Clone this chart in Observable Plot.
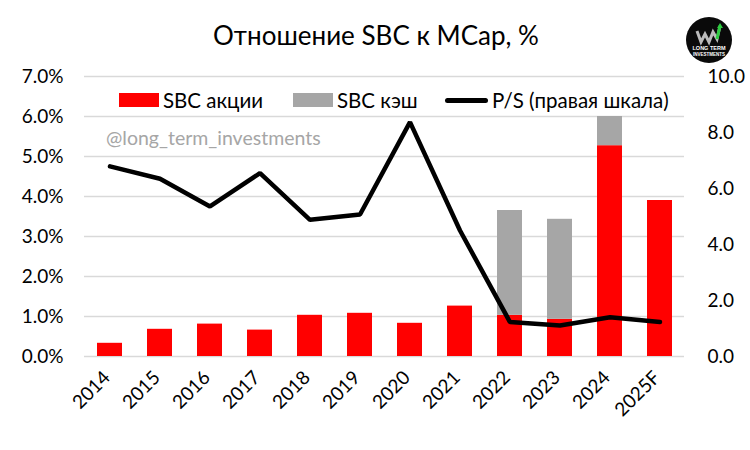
<!DOCTYPE html>
<html><head><meta charset="utf-8">
<script src="https://cdn.jsdelivr.net/npm/d3@7"></script>
<script src="https://cdn.jsdelivr.net/npm/@observablehq/plot@0.6"></script>
<style>
body{margin:0;background:#fff;font-family:Lato,"Noto Sans",sans-serif;color:#000;}
#wrap{position:relative;width:750px;height:450px;overflow:hidden;}
#wrap svg.plot{position:absolute;left:0;top:0;}
.title{position:absolute;left:0;top:19px;width:752px;text-align:center;font-size:26px;line-height:32px;}
.leg{position:absolute;top:88px;font-size:20.5px;line-height:24px;white-space:nowrap;}
.sw{position:absolute;top:93px;height:14px;width:40px;}
.ln{position:absolute;top:98px;height:5px;width:43px;background:#000;border-radius:3px;}
.wm{position:absolute;left:106px;top:126px;font-size:19.5px;color:#a6a6a6;}
.logo{position:absolute;left:686px;top:17px;}
</style></head><body>
<div id="wrap"></div>
<script>
const years = ["2014","2015","2016","2017","2018","2019","2020","2021","2022","2023","2024","2025F"];
const sbcShares = [0.33,0.68,0.81,0.66,1.03,1.08,0.83,1.26,1.03,0.93,5.27,3.90];
const sbcCash   = [0,0,0,0,0,0,0,0,2.62,2.50,0.73,0];
const psRatio   = [6.79,6.35,5.36,6.55,4.88,5.07,8.37,4.50,1.23,1.11,1.40,1.23];
const leftTicks = [0,1,2,3,4,5,6,7];
const rightTicks = [0,2,4,6,8,10];
const seriesNames = ["SBC акции","SBC кэш"];
const seriesColors = ["#ff0000","#a6a6a6"];
const titleText = "Отношение SBC к MCap, %";
const lineName = "P/S (правая шкала)";
const watermark = "@long_term_investments";
const PS_SCALE = 0.7; // right axis 10.0 aligns with left 7.0%

const bars = [];
years.forEach((y,i)=>{
  bars.push({year:y, series:seriesNames[0], value:sbcShares[i]});
  bars.push({year:y, series:seriesNames[1], value:sbcCash[i]});
});
const line = years.map((y,i)=>({year:y, ps:psRatio[i]}));

const chart = Plot.plot({
  width:750, height:450,
  marginTop:76, marginBottom:94, marginLeft:84, marginRight:66,
  style:{fontFamily:"Lato, 'Noto Sans', sans-serif", color:"#000", background:"transparent"},
  x:{domain:years, paddingInner:0.5, paddingOuter:0.25, label:null},
  y:{domain:[0,7], label:null},
  color:{domain:seriesNames, range:seriesColors},
  marks:[
    Plot.gridY(leftTicks,{stroke:"#d9d9d9", strokeOpacity:1, strokeWidth:1.5}),
    Plot.barY(bars,{x:"year", y:"value", fill:"series", order:seriesNames}),
    Plot.line(line,{x:"year", y:d=>d.ps*PS_SCALE, stroke:"#000", strokeWidth:4.5, strokeLinejoin:"miter"}),
    Plot.axisY(leftTicks,{anchor:"left", tickSize:0, tickPadding:21, fontSize:19, tickFormat:d=>d.toFixed(1)+"%", label:null}),
    Plot.axisY(rightTicks.map(v=>v*PS_SCALE),{anchor:"right", tickSize:0, tickPadding:23, fontSize:19, tickFormat:d=>(d/PS_SCALE).toFixed(1), label:null}),
    Plot.axisX({tickSize:0, tickRotate:-45, tickPadding:18, dx:-3, fontSize:19, label:null})
  ]
});
chart.classList.add("plot");
const wrap = document.getElementById("wrap");
wrap.appendChild(chart);

function add(html){ wrap.insertAdjacentHTML("beforeend", html); }
add(`<div class="title">${titleText}</div>`);
add(`<div class="sw" style="left:119px;background:${seriesColors[0]}"></div><div class="leg" style="left:163px">${seriesNames[0]}</div>`);
add(`<div class="sw" style="left:293px;background:${seriesColors[1]}"></div><div class="leg" style="left:337px">${seriesNames[1]}</div>`);
add(`<div class="ln" style="left:445px"></div><div class="leg" style="left:492px">${lineName}</div>`);
add(`<div class="wm">${watermark}</div>`);
add(`<svg class="logo" width="46" height="46" viewBox="0 0 46 46">
<circle cx="23" cy="23" r="23" fill="#0a0a0a"/>
<path d="M11 14 L15 25 L19 17 L23 25 L27 15 L31 22 L34 9" fill="none" stroke="#bbb" stroke-width="3"/>
<path d="M31 22 L34 9" stroke="#2ecc40" stroke-width="3"/>
<polygon points="34,6 37,11 31,11" fill="#2ecc40"/>
<text x="23" y="33" text-anchor="middle" font-size="5.5" font-weight="bold" fill="#fff" font-family="Liberation Sans">LONG TERM</text>
<text x="23" y="39" text-anchor="middle" font-size="4.5" font-weight="bold" fill="#fff" font-family="Liberation Sans">INVESTMENTS</text>
</svg>`);
</script>
</body></html>
